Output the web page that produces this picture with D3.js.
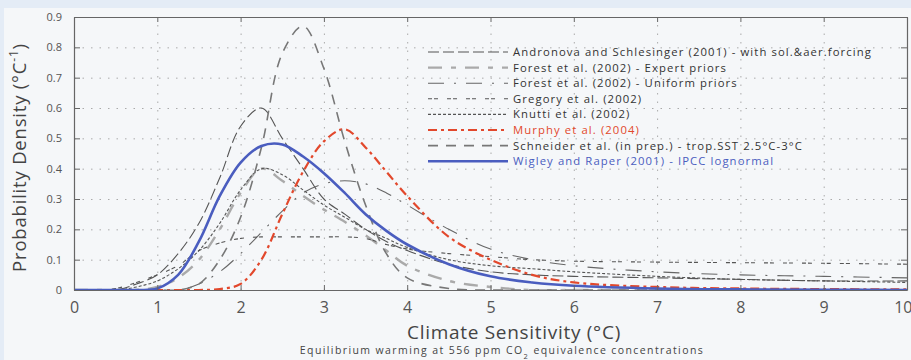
<!DOCTYPE html>
<html>
<head>
<meta charset="utf-8">
<script src="https://cdn.jsdelivr.net/npm/d3@7"></script>
<style>
  html, body { margin: 0; padding: 0; background: #e4ecf6; }
  svg { display: block; }
  text { font-family: "Open Sans", "Roboto", sans-serif; }
</style>
</head>
<body>
<div id="chart"></div>
<script>
// climate sensitivity sample points (°C)
const SENS = [0, 0.5, 0.75, 1, 1.25, 1.5, 1.75, 2, 2.25, 2.5, 2.75, 3, 3.25, 3.5, 3.75, 4, 4.5, 5, 5.5, 6, 7, 8, 9, 10];

// probability densities, one per study
const andronova = [0, 0, 0.02, 0.05, 0.12, 0.22, 0.37, 0.54, 0.6, 0.5, 0.4, 0.3, 0.25, 0.2, 0.16, 0.13, 0.085, 0.06, 0.05, 0.045, 0.04, 0.035, 0.03, 0.03];
const forestExpert = [0, 0, 0, 0.01, 0.04, 0.1, 0.2, 0.32, 0.4, 0.36, 0.31, 0.265, 0.225, 0.18, 0.13, 0.08, 0.03, 0.01, 0, 0, 0, 0, 0, 0];
const forestUniform = [0, 0, 0, 0, 0, 0.02, 0.06, 0.12, 0.19, 0.26, 0.32, 0.35, 0.36, 0.35, 0.32, 0.28, 0.2, 0.135, 0.1, 0.08, 0.06, 0.05, 0.045, 0.04];
const gregory = [0, 0.005, 0.025, 0.05, 0.08, 0.13, 0.155, 0.17, 0.175, 0.175, 0.175, 0.175, 0.175, 0.17, 0.15, 0.135, 0.12, 0.11, 0.1, 0.095, 0.092, 0.09, 0.088, 0.085];
const knutti = [0, 0, 0.01, 0.03, 0.07, 0.13, 0.22, 0.33, 0.4, 0.38, 0.33, 0.28, 0.24, 0.2, 0.17, 0.14, 0.1, 0.08, 0.07, 0.06, 0.045, 0.035, 0.03, 0.025];
const murphy = [0, 0, 0, 0, 0, 0, 0.003, 0.02, 0.1, 0.25, 0.39, 0.49, 0.53, 0.47, 0.39, 0.31, 0.175, 0.1, 0.05, 0.025, 0.01, 0.005, 0.003, 0.002];
const schneider = [0, 0, 0, 0, 0, 0.02, 0.1, 0.24, 0.47, 0.78, 0.87, 0.73, 0.49, 0.28, 0.12, 0.04, 0.005, 0, 0, 0, 0, 0, 0, 0];
const wigley = [0, 0, 0, 0.005, 0.05, 0.16, 0.31, 0.42, 0.475, 0.48, 0.44, 0.385, 0.32, 0.25, 0.195, 0.15, 0.085, 0.045, 0.025, 0.014, 0.005, 0.002, 0.001, 0];

const X_TICKS = [0, 1, 2, 3, 4, 5, 6, 7, 8, 9, 10];
const Y_TICKS = [0, 0.1, 0.2, 0.3, 0.4, 0.5, 0.6, 0.7, 0.8, 0.9];

const series = [
  { name: "Andronova and Schlesinger (2001) - with sol.&aer.forcing", values: andronova, color: "#555", width: 1.1, dash: "11,4", text: "#333" },
  { name: "Forest et al. (2002) - Expert priors", values: forestExpert, color: "#aaa", width: 2.4, dash: "14,9,5,9", text: "#333" },
  { name: "Forest et al. (2002) - Uniform priors", values: forestUniform, color: "#666", width: 1.1, dash: "16,10,2,10", text: "#333" },
  { name: "Gregory et al. (2002)", values: gregory, color: "#555", width: 1.1, dash: "4,2,4,9", text: "#333" },
  { name: "Knutti et al. (2002)", values: knutti, color: "#555", width: 1.1, dash: "3,2", text: "#333" },
  { name: "Murphy et al. (2004)", values: murphy, color: "#e2482c", width: 2.2, dash: "9,4,3,4", text: "#e2482c" },
  { name: "Schneider et al. (in prep.) - trop.SST 2.5°C-3°C", values: schneider, color: "#777", width: 1.6, dash: "10,8", text: "#333" },
  { name: "Wigley and Raper (2001) - IPCC lognormal", values: wigley, color: "#4a5dbf", width: 2.6, dash: null, text: "#4a5dbf" }
];

const W = 911, H = 360;
const MARGIN = { top: 17, right: 4, bottom: 70, left: 74 };
const innerW = W - MARGIN.left - MARGIN.right;
const innerH = H - MARGIN.top - MARGIN.bottom;

const svg = d3.select("#chart").append("svg")
  .attr("width", W)
  .attr("height", H);

// panel background
svg.append("rect")
  .attr("x", 4).attr("y", 8)
  .attr("width", W - 4).attr("height", H - 8)
  .attr("fill", "#f5f7f9");

svg.append("defs").append("clipPath")
  .attr("id", "plot-clip")
  .append("rect")
  .attr("width", innerW).attr("height", innerH);

const g = svg.append("g")
  .attr("transform", `translate(${MARGIN.left},${MARGIN.top})`);

const x = d3.scaleLinear().domain([0, 10]).range([0, innerW]);
const y = d3.scaleLinear().domain([0, 0.9]).range([innerH, 0]);

// dotted grid
g.append("g")
  .attr("transform", `translate(0,${innerH})`)
  .call(d3.axisBottom(x).tickValues(X_TICKS).tickSize(-innerH).tickFormat(""))
  .call(s => s.select(".domain").remove())
  .selectAll("line")
  .attr("stroke", "#aaa")
  .attr("stroke-dasharray", "1.5,7");

g.append("g")
  .call(d3.axisLeft(y).tickValues(Y_TICKS).tickSize(-innerW).tickFormat(""))
  .call(s => s.select(".domain").remove())
  .selectAll("line")
  .attr("stroke", "#aaa")
  .attr("stroke-dasharray", "1.5,7");

// curves
const line = d3.line()
  .x((d, i) => x(SENS[i]))
  .y(d => y(d))
  .curve(d3.curveCatmullRom.alpha(0.5));

g.append("g")
  .attr("clip-path", "url(#plot-clip)")
  .selectAll("path")
  .data(series)
  .join("path")
  .attr("fill", "none")
  .attr("stroke", d => d.color)
  .attr("stroke-width", d => d.width)
  .attr("stroke-dasharray", d => d.dash)
  .attr("d", d => line(d.values));

// frame with inward ticks
const styleAxis = s => {
  s.select(".domain").attr("stroke", "#666").attr("stroke-width", 1.2);
  s.selectAll(".tick line").attr("stroke", "#666");
};

const xAxis = g.append("g")
  .attr("transform", `translate(0,${innerH})`)
  .call(d3.axisBottom(x).tickValues(X_TICKS).tickSize(-5).tickPadding(12).tickSizeOuter(0))
  .call(styleAxis);
xAxis.selectAll("text")
  .attr("font-family", "Roboto, sans-serif")
  .attr("font-size", 16)
  .attr("fill", "#555")
  .attr("text-anchor", d => d === 10 ? "end" : "middle")
  .attr("dx", d => d === 10 ? 5 : 0);

g.append("g")
  .call(d3.axisTop(x).tickValues(X_TICKS).tickSize(-5).tickFormat("").tickSizeOuter(0))
  .call(styleAxis);

const yAxis = g.append("g")
  .call(d3.axisLeft(y).tickValues(Y_TICKS).tickSize(-6).tickPadding(12).tickSizeOuter(0))
  .call(styleAxis);
yAxis.selectAll("text")
  .attr("font-family", "Roboto, sans-serif")
  .attr("font-size", 11)
  .attr("fill", "#555")
  .text(d => d === 0 ? "0" : d3.format(".1f")(d));

g.append("g")
  .attr("transform", `translate(${innerW},0)`)
  .call(d3.axisRight(y).tickValues(Y_TICKS).tickSize(-6).tickFormat("").tickSizeOuter(0))
  .call(styleAxis);

// legend
const legend = g.append("g")
  .attr("transform", `translate(${428 - MARGIN.left},${52 - MARGIN.top})`);

const rows = legend.selectAll("g")
  .data(series)
  .join("g")
  .attr("transform", (d, i) => `translate(0,${i * 15.6})`);

rows.append("line")
  .attr("x1", 0).attr("x2", 80)
  .attr("stroke", d => d.color)
  .attr("stroke-width", d => d.width)
  .attr("stroke-dasharray", d => d.dash);

rows.append("text")
  .attr("x", 85)
  .attr("dy", "0.35em")
  .attr("font-size", 11.3)
  .attr("letter-spacing", 1.1)
  .attr("fill", d => d.text)
  .text(d => d.name);

// axis titles
svg.append("text")
  .attr("transform", `translate(26,${MARGIN.top + innerH / 2 + 4}) rotate(-90)`)
  .attr("text-anchor", "middle")
  .attr("font-size", 18.5)
  .attr("letter-spacing", 0.8)
  .attr("fill", "#444")
  .text("Probability Density (°C")
  .append("tspan").attr("baseline-shift", "super").attr("font-size", 12).text("-1")
  .select(function() { return this.parentNode; })
  .append("tspan").text(")");

svg.append("text")
  .attr("x", 514).attr("y", 339)
  .attr("text-anchor", "middle")
  .attr("font-size", 19)
  .attr("letter-spacing", 0.7)
  .attr("fill", "#444")
  .text("Climate Sensitivity (°C)");

svg.append("text")
  .attr("x", 502).attr("y", 354)
  .attr("text-anchor", "middle")
  .attr("font-size", 10.5)
  .attr("letter-spacing", 1.4)
  .attr("fill", "#444")
  .text("Equilibrium warming at 556 ppm CO")
  .append("tspan").attr("baseline-shift", "sub").attr("font-size", 7.5).text("2")
  .select(function() { return this.parentNode; })
  .append("tspan").text(" equivalence concentrations");
</script>
</body>
</html>
